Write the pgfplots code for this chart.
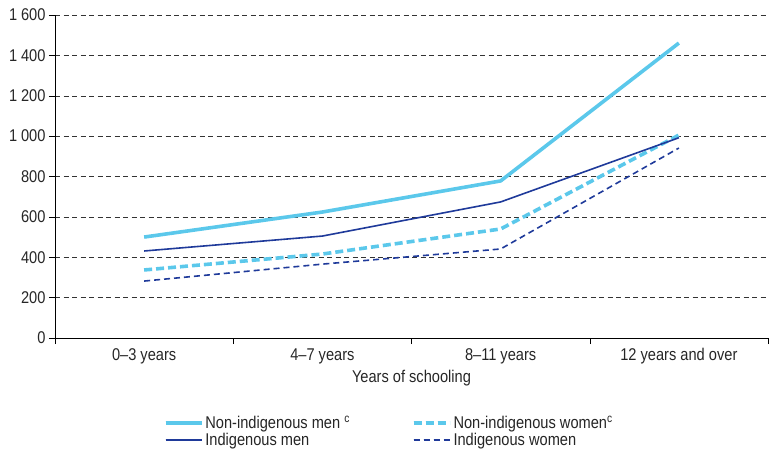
\documentclass[border=0pt]{standalone}
\usepackage{pgfplots}
\pgfplotsset{compat=1.18}
\usepackage{fontspec}
\setmainfont{Liberation Sans}[FakeStretch=0.86]
\definecolor{lightblue}{RGB}{91,200,235}
\definecolor{darkblue}{RGB}{31,58,154}
\newcommand{\lbl}{\fontsize{17}{18}\selectfont}
\begin{document}
\begin{tikzpicture}
\begin{axis}[
    name=ax,
    scale only axis,
    width=713pt, height=323pt,
    xmin=0, xmax=4, ymin=0, ymax=1600,
    axis x line*=bottom,
    axis y line*=left,
    xtick={0.5,1.5,2.5,3.5},
    xticklabels={0--3 years,4--7 years,8--11 years,12 years and over},
    major x tick style={draw=none},
    minor xtick={0,1,2,3,4},
    minor x tick style={black, thin},
    minor tick length=6pt,
    ytick={0,200,...,1600},
    yticklabels={0,200,400,600,800,1\hspace{0.22em}000,1\hspace{0.22em}200,1\hspace{0.22em}400,1\hspace{0.22em}600},
    tick align=outside,
    major tick length=6pt,
    y tick style={black, thin},
    ymajorgrids,
    major grid style={black!80, dash pattern=on 5pt off 3.5pt, thin},
    tick label style={font=\lbl, text=black!85},
    xticklabel style={yshift=-1pt},
    xlabel={Years of schooling},
    xlabel style={font=\lbl, text=black!85, yshift=1pt},
    legend style={draw=none, at={(axis description cs:0.148,-0.228)}, anchor=north west,
        font=\lbl, text=black!85, row sep=-1pt,
        /tikz/every even column/.append style={column sep=60pt}},
    legend columns=2,
    legend cell align=left,
    legend image code/.code={\draw[#1] (0cm,0cm) -- (29pt,0cm); \path (0cm,0cm) -- (36pt,0cm);},
    every axis plot/.append style={line join=round},
]
\addplot[lightblue, line width=3.6pt] coordinates {(0.5,500) (1.5,624) (2.5,778) (3.5,1461)};
\addlegendentry{Non-indigenous men \textsuperscript{c}}
\addplot[lightblue, line width=3.6pt, dash pattern=on 8pt off 4pt] coordinates {(0.5,337) (1.5,416) (2.5,540) (3.5,1005)};
\addlegendentry{Non-indigenous women\textsuperscript{c}}
\addplot[darkblue, line width=1.6pt] coordinates {(0.5,431) (1.5,505) (2.5,674) (3.5,992)};
\addlegendentry{Indigenous men}
\addplot[darkblue, line width=1.6pt, dash pattern=on 6pt off 4pt] coordinates {(0.5,282) (1.5,366) (2.5,441) (3.5,941)};
\addlegendentry{Indigenous women}
\end{axis}
\pgfresetboundingbox
\path[use as bounding box] ([shift={(-55pt,-114pt)}]ax.south west) rectangle ([shift={(1pt,15pt)}]ax.north east);
\end{tikzpicture}
\end{document}
